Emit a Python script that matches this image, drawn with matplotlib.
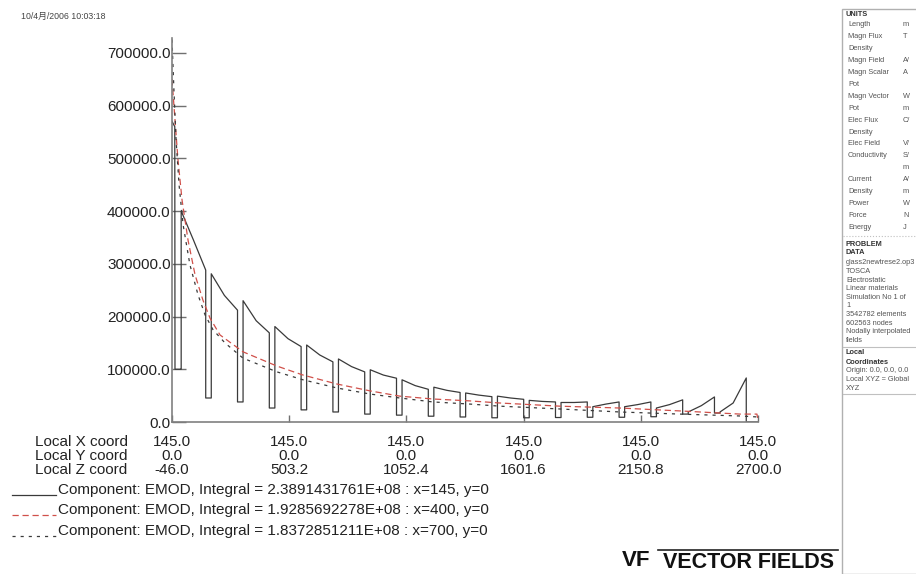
import matplotlib
matplotlib.use("Agg")
import matplotlib.pyplot as plt
import matplotlib.transforms as mtransforms
from matplotlib.lines import Line2D
from matplotlib.patches import Rectangle

plt.rcParams['font.family'] = ['Liberation Sans', 'Noto Sans CJK SC', 'DejaVu Sans']

# ---- data (z in mm, E in V/m) ----
# solid line, x=145: lead-in spike, then 18 decaying segments separated by dips
lead_z = [-46, -33, -32, -4]
lead_E = [570000, 560000, 100000, 100000]
dip_z = [112, 261, 410, 559, 708, 857, 1006, 1155, 1304, 1453, 1602, 1751,
         1900, 2049, 2198, 2347, 2496]
dip_width = 26
final_drop_z = 2645
seg_start_E = [400000, 281000, 230000, 181000, 146000, 119500, 99000, 80000, 66000,
               55000, 49000, 41000, 37000, 29000, 29000, 26500, 19000, 19000]
seg_mid_E = [345000, 240000, 192000, 158000, 127000, 105000, 89000, 69000, 60000,
             51000, 45500, 39000, 37000, 34000, 33000, 33000, 31000, 36000]
seg_end_E = [288000, 212000, 169000, 143000, 114000, 95000, 83000, 62000, 56000,
             48000, 43000, 38000, 38000, 38000, 38000, 42000, 47500, 83500]
dip_E = [45500, 38000, 26500, 23000, 19000, 15000, 13000, 11000, 9500, 8000, 8000,
         8500, 9000, 9000, 10000, 15000, 17000]

# red dashed, x=400
red_z = [-46, -32, -18, 1, 29, 62, 99, 132, 179, 287, 446, 568, 727, 882, 1022,
         1177, 1350, 1491, 1772, 2053, 2334, 2616, 2695, 2700]
red_E = [650000, 573000, 497000, 421000, 345000, 279000, 231000, 197000, 165000,
         133000, 106000, 89000, 72000, 59000, 49000, 43600, 40000, 36000, 30000,
         26500, 21000, 15000, 15000, 4000]

# dark dashed, x=700
dark_z = [-46, -37, -27, -13, 6, 38, 76, 109, 146, 202, 287, 446, 568, 727, 882,
          1022, 1177, 1350, 1491, 1772, 2053, 2334, 2616, 2700]
dark_E = [725000, 630000, 535000, 450000, 374000, 298000, 241000, 203000, 175000,
          150000, 121000, 95000, 80000, 64500, 53000, 45500, 38000, 34000, 30000,
          24700, 19000, 15000, 11400, 9500]

# axis labelling
x_ticks = [-46.0, 503.2, 1052.4, 1601.6, 2150.8, 2700.0]
x_coord_labels = ['145.0'] * 6
y_coord_labels = ['0.0'] * 6
z_coord_labels = ['-46.0', '503.2', '1052.4', '1601.6', '2150.8', '2700.0']
y_ticks = [0, 100000, 200000, 300000, 400000, 500000, 600000, 700000]

legend_texts = [
    'Component: EMOD, Integral = 2.3891431761E+08 : x=145, y=0',
    'Component: EMOD, Integral = 1.9285692278E+08 : x=400, y=0',
    'Component: EMOD, Integral = 1.8372851211E+08 : x=700, y=0',
]

units_rows = [('Length', 'm'), ('Magn Flux', 'T'), ('Density', ''), ('Magn Field', 'A/'),
              ('Magn Scalar', 'A'), ('Pot', ''), ('Magn Vector', 'W'), ('Pot', 'm'),
              ('Elec Flux', 'C/'), ('Density', ''), ('Elec Field', 'V/'),
              ('Conductivity', 'S/'), ('', 'm'), ('Current', 'A/'), ('Density', 'm'),
              ('Power', 'W'), ('Force', 'N'), ('Energy', 'J')]
problem_rows = ['glass2newtrese2.op3', 'TOSCA', 'Electrostatic', 'Linear materials',
                'Simulation No 1 of', '1', '3542782 elements', '602563 nodes',
                'Nodally interpolated', 'fields']
local_rows = ['Origin: 0.0, 0.0, 0.0', 'Local XYZ = Global', 'XYZ']

# ---- build the solid polyline from the segment tables ----
seg_start_z = [-3] + [d + dip_width for d in dip_z]
seg_end_z = dip_z + [final_drop_z]
solid_z = list(lead_z)
solid_E = list(lead_E)
for k in range(len(seg_start_E)):
    zs, ze = seg_start_z[k], seg_end_z[k]
    solid_z += [zs, zs, (zs + ze) / 2, ze]
    solid_E += [solid_E[-1], seg_start_E[k], seg_mid_E[k], seg_end_E[k]]
    if k < len(dip_E):
        solid_z += [ze, ze + dip_width]
        solid_E += [dip_E[k], dip_E[k]]
solid_z += [final_drop_z, 2700]
solid_E += [0, 0]

W, H = 916, 574
fig = plt.figure(figsize=(W / 100, H / 100), dpi=100)
fig.patch.set_facecolor('white')


def fx(px):
    return px / W


def fy(py):
    return 1 - py / H


ax = fig.add_axes([fx(172), fy(422), (758 - 172) / W, (422 - 38) / H])
ax.plot(solid_z, solid_E, color='#3a3a3a', lw=0.9)
ax.plot(red_z, red_E, color='#d0504a', lw=0.9, dashes=(5, 3))
ax.plot(dark_z, dark_E, color='#3a3a3a', lw=0.9, dashes=(2.5, 4))

ax.set_xlim(-46, 2700)
ax.set_ylim(0, 728000)
for s in ['top', 'right']:
    ax.spines[s].set_visible(False)
for s in ['left', 'bottom']:
    ax.spines[s].set_color('#808080')
    ax.spines[s].set_linewidth(1.2)

ax.set_yticks(y_ticks)
ax.set_yticklabels(['%.1f' % v for v in y_ticks], fontsize=11, color='#222222')
ax.tick_params(axis='y', direction='in', length=10, width=1, color='#707070', pad=1)
ax.set_xticks(x_ticks)
ax.set_xticklabels([])
ax.tick_params(axis='x', direction='in', length=5, width=1, color='#707070')

# coordinate rows under the axis
trans = mtransforms.blended_transform_factory(ax.transData, fig.transFigure)
rows = [('Local X coord', x_coord_labels, 442), ('Local Y coord', y_coord_labels, 456),
        ('Local Z coord', z_coord_labels, 470)]
for name, labels, py in rows:
    fig.text(fx(35), fy(py), name, fontsize=11, color='#222222', va='center', ha='left')
    for xv, lab in zip(x_ticks, labels):
        ax.text(xv, fy(py), lab, transform=trans, fontsize=11, color='#222222',
                ha='center', va='center')

# legend block
styles = [dict(color='#3a3a3a', ls='-'),
          dict(color='#d0504a', dashes=(5, 3)),
          dict(color='#3a3a3a', dashes=(2.5, 4))]
for i, (txt, st) in enumerate(zip(legend_texts, styles)):
    py = [490, 510, 531][i]
    fig.add_artist(Line2D([fx(12), fx(56)], [fy(py + 5), fy(py + 5)], lw=0.9, **st))
    fig.text(fx(58), fy(py), txt, fontsize=11, color='#222222', va='center', ha='left')

# timestamp
fig.text(fx(21), fy(16), '10/4月/2006 10:03:18', fontsize=6.3, color='#444444',
         va='center', ha='left')

# right info panel
fig.add_artist(Rectangle((fx(842), 0), fx(W + 10) - fx(842), fy(9), transform=fig.transFigure,
                         facecolor='white', edgecolor='#b0b0b0', lw=1))
fs = 5.3
fig.text(fx(846), fy(15), 'UNITS', fontsize=fs, weight='bold', color='#333333', va='center')
for i, (a, b) in enumerate(units_rows):
    py = 25 + 11.9 * i
    fig.text(fx(848), fy(py), a, fontsize=fs, color='#555555', va='center')
    fig.text(fx(903), fy(py), b, fontsize=fs, color='#555555', va='center')
fig.add_artist(Line2D([fx(843), fx(W)], [fy(236), fy(236)], color='#c0c0c0', lw=0.8, ls=':'))
fig.text(fx(846), fy(244), 'PROBLEM', fontsize=fs, weight='bold', color='#333333', va='center')
fig.text(fx(846), fy(253), 'DATA', fontsize=fs, weight='bold', color='#333333', va='center')
for i, t in enumerate(problem_rows):
    fig.text(fx(846), fy(263 + 8.6 * i), t, fontsize=fs, color='#555555', va='center')
fig.add_artist(Line2D([fx(843), fx(W)], [fy(347), fy(347)], color='#c0c0c0', lw=0.8))
fig.text(fx(846), fy(353), 'Local', fontsize=fs, weight='bold', color='#333333', va='center')
fig.text(fx(846), fy(362), 'Coordinates', fontsize=fs, weight='bold', color='#333333', va='center')
for i, t in enumerate(local_rows):
    fig.text(fx(846), fy(371 + 8.5 * i), t, fontsize=fs, color='#555555', va='center')
fig.add_artist(Line2D([fx(843), fx(W)], [fy(394), fy(394)], color='#c0c0c0', lw=0.8))

# Vector Fields logo
fig.add_artist(Line2D([fx(658), fx(838)], [fy(550), fy(550)], color='#222222', lw=1.2))
fig.text(fx(622), fy(561), 'VF', fontsize=16, weight='bold', color='#111111', va='center',
         ha='left')
fig.text(fx(663), fy(562), 'VECTOR FIELDS', fontsize=15.5, weight='bold', color='#111111',
         va='center', ha='left')

fig.savefig('out.png', dpi=100)
